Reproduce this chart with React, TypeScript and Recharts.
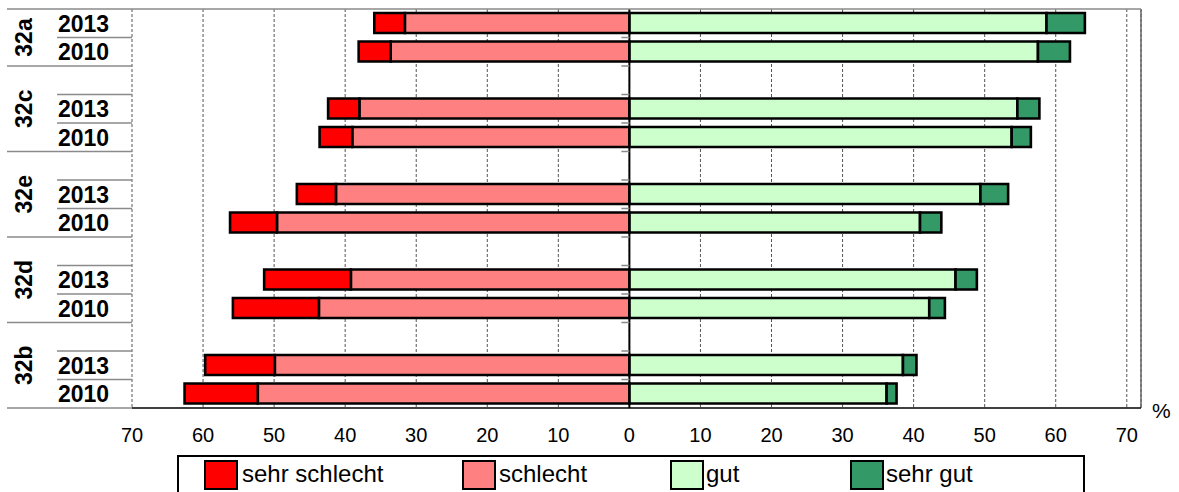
import React from 'react';
import {
  BarChart,
  Bar,
  XAxis,
  YAxis,
  CartesianGrid,
  ReferenceLine,
} from 'recharts';

// Chart data (percent)
const GROUPS = ['32a', '32c', '32e', '32d', '32b'];
const YEARS = ['2013', '2010'];
// per group: [2013, 2010]
const SEHR_SCHLECHT = [4.3, 4.5, 4.4, 4.6, 5.5, 6.6, 12.2, 12.1, 9.8, 10.3];
const SCHLECHT = [31.6, 33.6, 38.0, 39.0, 41.3, 49.6, 39.2, 43.7, 49.9, 52.3];
const GUT = [58.7, 57.5, 54.6, 53.8, 49.4, 40.9, 45.9, 42.2, 38.5, 36.2];
const SEHR_GUT = [5.4, 4.5, 3.1, 2.7, 3.9, 3.0, 3.0, 2.2, 1.9, 1.4];
const X_TICKS = [-70, -60, -50, -40, -30, -20, -10, 0, 10, 20, 30, 40, 50, 60, 70];

const COLORS = {
  sehrSchlecht: '#FF0000',
  schlecht: '#FF8080',
  gut: '#CCFFCC',
  sehrGut: '#339966',
};

const LEGEND = [
  { key: 'sehrSchlecht', label: 'sehr schlecht', left: 204, textLeft: 242 },
  { key: 'schlecht', label: 'schlecht', left: 462, textLeft: 499 },
  { key: 'gut', label: 'gut', left: 670, textLeft: 706 },
  { key: 'sehrGut', label: 'sehr gut', left: 850, textLeft: 886 },
];

const FONT = '"Liberation Sans", Arial, sans-serif';

// Layout
const W = 1179;
const H = 492;
const X_AXIS_H = 30;
const MARGIN = { top: 9, right: 38, bottom: 84 - X_AXIS_H, left: 0 };
const Y_AXIS_W = 132;
const X_MIN = -70;
const X_MAX = 72;
const PLOT_RIGHT = W - MARGIN.right;
const PLOT_W = PLOT_RIGHT - Y_AXIS_W;
const ZERO_X = Y_AXIS_W + ((0 - X_MIN) / (X_MAX - X_MIN)) * PLOT_W;

type Row = {
  id: string;
  group: string;
  year?: string;
  first: boolean;
  last: boolean;
  groupFirst: number;
  groupLast: number;
  idx: number;
  schlecht: number;
  sehrSchlecht: number;
  gut: number;
  sehrGut: number;
};

// Build rows: a spacer row before every group except the first
const rows: Row[] = [];
GROUPS.forEach((g, gi) => {
  const start = rows.length;
  if (gi > 0) {
    rows.push({
      id: `gap-${g}`, group: g, first: true, last: false, groupFirst: 0, groupLast: 0, idx: 0,
      schlecht: 0, sehrSchlecht: 0, gut: 0, sehrGut: 0,
    });
  }
  YEARS.forEach((y, yi) => {
    const k = gi * 2 + yi;
    rows.push({
      id: `${g}-${y}`,
      group: g,
      year: y,
      first: gi === 0 && yi === 0,
      last: gi === GROUPS.length - 1 && yi === YEARS.length - 1,
      groupFirst: 0,
      groupLast: 0,
      idx: 0,
      schlecht: -SCHLECHT[k],
      sehrSchlecht: -SEHR_SCHLECHT[k],
      gut: GUT[k],
      sehrGut: SEHR_GUT[k],
    });
  });
  for (let i = start; i < rows.length; i++) {
    rows[i].groupFirst = start;
    rows[i].groupLast = rows.length - 1;
    rows[i].idx = i;
  }
});

const SLOT = (H - 9 - 84) / rows.length;
const LINE_GRAY = '#8a8a8a';

function CategoryTick(props: any) {
  const { y, payload } = props;
  const row = rows.find((r) => r.id === payload.value);
  if (!row) return null;
  const half = SLOT / 2;
  const top = y - half;
  const groupCenter = y + ((row.groupFirst + row.groupLast) / 2 - row.idx) * SLOT;
  return (
    <g>
      {/* row separator in the label table */}
      <line
        x1={row.first ? 7 : 57}
        x2={row.idx === 0 ? PLOT_RIGHT : Y_AXIS_W}
        y1={top}
        y2={top}
        stroke={LINE_GRAY}
        strokeWidth={1.5}
      />
      {row.last && (
        <line x1={7} x2={Y_AXIS_W} y1={y + half} y2={y + half} stroke={LINE_GRAY} strokeWidth={1.5} />
      )}
      {row.idx > 0 && (
        <line x1={ZERO_X - 8} x2={ZERO_X} y1={top} y2={top} stroke={LINE_GRAY} strokeWidth={1.5} />
      )}
      {row.year && (
        <text x={58} y={y} dy={8.5} fontSize={23} fontWeight="bold" fontFamily={FONT} fill="#000">
          {row.year}
        </text>
      )}
      {row.year === '2013' && (
        <text
          x={32}
          y={groupCenter}
          transform={`rotate(-90, 32, ${groupCenter})`}
          textAnchor="middle"
          fontSize={23}
          fontWeight="bold"
          fontFamily={FONT}
          fill="#000"
        >
          {row.group}
        </text>
      )}
    </g>
  );
}

function ValueTick(props: any) {
  const { x, y, payload } = props;
  return (
    <text x={x} y={y} dy={34} textAnchor="middle" fontSize={20} fontFamily={FONT} fill="#000">
      {Math.abs(payload.value)}
    </text>
  );
}

export default function App() {
  const barProps = {
    stackId: 's',
    stroke: '#000',
    strokeWidth: 2.6,
    barSize: 20,
    isAnimationActive: false,
  };

  return (
    <div
      style={{
        position: 'absolute',
        left: 0,
        top: 0,
        width: W,
        height: H,
        overflow: 'hidden',
        background: '#fff',
        fontFamily: FONT,
      }}
    >
      <BarChart
        width={W}
        height={H}
        data={rows}
        layout="vertical"
        stackOffset="sign"
        margin={MARGIN}
      >
        <CartesianGrid horizontal={false} stroke="#555" strokeDasharray="3 2" />
        <XAxis
          type="number"
          domain={[X_MIN, X_MAX]}
          ticks={X_TICKS}
          allowDataOverflow
          height={X_AXIS_H}
          tickLine={false}
          tickSize={0}
          tickMargin={0}
          axisLine={{ stroke: '#000', strokeWidth: 1.5 }}
          tick={<ValueTick />}
        />
        <YAxis
          type="category"
          dataKey="id"
          width={Y_AXIS_W}
          interval={0}
          axisLine={false}
          tickLine={false}
          tick={<CategoryTick />}
        />
        <Bar dataKey="schlecht" fill={COLORS.schlecht} {...barProps} />
        <Bar dataKey="sehrSchlecht" fill={COLORS.sehrSchlecht} {...barProps} />
        <Bar dataKey="gut" fill={COLORS.gut} {...barProps} />
        <Bar dataKey="sehrGut" fill={COLORS.sehrGut} {...barProps} />
        <ReferenceLine x={0} stroke="#000" strokeWidth={2} />
        <ReferenceLine x={X_MAX} stroke="#666" strokeWidth={1.5} />
      </BarChart>

      {/* unit label */}
      <div style={{ position: 'absolute', left: 1152, top: 399, fontSize: 21 }}>%</div>

      {/* legend */}
      <div
        style={{
          position: 'absolute',
          left: 177,
          top: 455,
          width: 908,
          height: 50,
          border: '2px solid #000',
          boxSizing: 'border-box',
        }}
      />
      {LEGEND.map((item) => (
        <React.Fragment key={item.key}>
          <div
            style={{
              position: 'absolute',
              left: item.left,
              top: 460,
              width: 34,
              height: 30,
              boxSizing: 'border-box',
              border: '2px solid #000',
              background: COLORS[item.key as keyof typeof COLORS],
            }}
          />
          <div
            style={{
              position: 'absolute',
              left: item.textLeft,
              top: 460,
              fontSize: 24,
              lineHeight: '28px',
              color: '#000',
              whiteSpace: 'nowrap',
            }}
          >
            {item.label}
          </div>
        </React.Fragment>
      ))}
    </div>
  );
}
